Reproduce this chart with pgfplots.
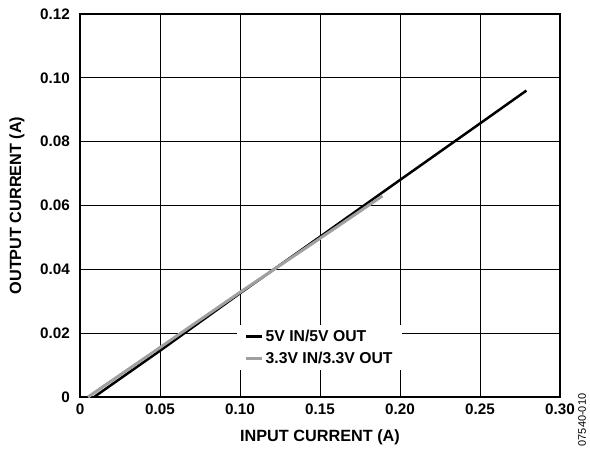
\documentclass[border=0pt]{standalone}
\usepackage{fontspec}
\setmainfont{Liberation Sans}
\usepackage{pgfplots}
\pgfplotsset{compat=1.18}
\definecolor{lgray}{RGB}{160,160,160}

\begin{document}
\begin{tikzpicture}
\useasboundingbox (-80bp,-52bp) rectangle (510bp,397bp);
\begin{axis}[
  scale only axis,
  width=480bp, height=383bp,
  xmin=0, xmax=0.30, ymin=0, ymax=0.12,
  xtick={0,0.05,0.10,0.15,0.20,0.25,0.30},
  xticklabels={0,0.05,0.10,0.15,0.20,0.25,0.30},
  ytick={0,0.02,0.04,0.06,0.08,0.10,0.12},
  yticklabels={0,0.02,0.04,0.06,0.08,0.10,0.12},
  grid=major,
  grid style={black, line width=0.9bp},
  axis line style={black, line width=1.4bp},
  major tick length=0pt,
  /pgf/number format/assume math mode=true,
  tick label style={font=\fontsize{15.3}{17}\selectfont\bfseries, inner sep=0pt},
  xticklabel style={anchor=north, yshift=-7bp},
  yticklabel style={anchor=east, xshift=-10bp},
  xlabel={INPUT CURRENT (A)},
  ylabel={OUTPUT CURRENT (A)},
  label style={font=\fontsize{16.3}{18}\selectfont\bfseries, inner sep=0pt},
  xlabel style={at={(rel axis cs:0.5,0)}, anchor=center, yshift=-40bp},
  ylabel style={at={(rel axis cs:0,0.5)}, anchor=center, yshift=63bp},
  legend style={at={(axis description cs:0.327,0.188)}, anchor=north west,
    draw=none, fill=white, inner xsep=8bp, inner ysep=3bp,
    font=\fontsize{15.8}{18}\selectfont\bfseries, row sep=5bp,
    legend cell align=left},
  legend image code/.code={\draw[#1, line width=2.5bp] (0bp,0bp) -- (16bp,0bp);},
]
\addplot[black, line width=2.5bp] coordinates {
  (0.0088,0) (0.05,0.0145) (0.10,0.0325) (0.15,0.0502)
  (0.20,0.0680) (0.25,0.0857) (0.279,0.0960)};
\addlegendentry{5V IN/5V OUT}
\addplot[lgray, line width=3bp] coordinates {
  (0.005,0) (0.05,0.0155) (0.10,0.0328) (0.15,0.0497)
  (0.189,0.0630)};
\addlegendentry{3.3V IN/3.3V OUT}
\end{axis}
\node[rotate=90, font=\fontsize{11}{12}\selectfont] at (502bp,-23bp) {07540-010};
\end{tikzpicture}
\end{document}
